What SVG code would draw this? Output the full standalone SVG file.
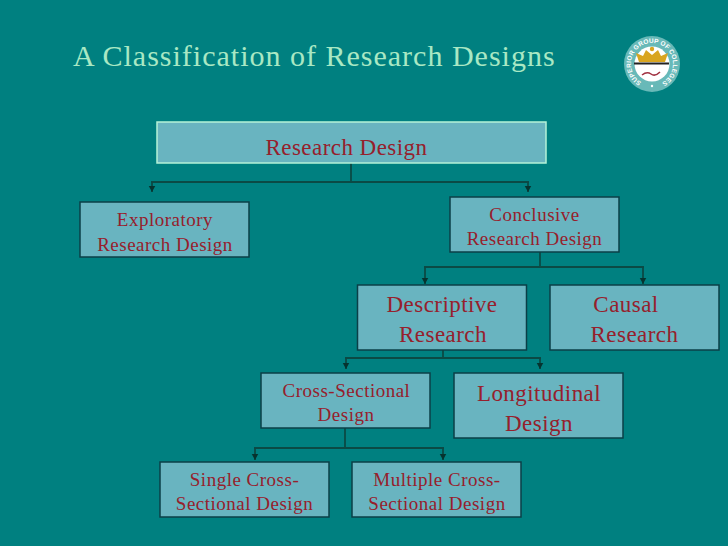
<svg xmlns="http://www.w3.org/2000/svg" width="728" height="546" viewBox="0 0 728 546">
<style>
.n{fill:#69b4c0;stroke:#0b3f47;stroke-width:1.5}
.t{font-family:"Liberation Serif",serif;fill:#96202c;text-anchor:middle}
.s{font-size:19px;letter-spacing:.5px}
.l{font-size:23px;letter-spacing:.45px}
.c{fill:none;stroke:#0b4a45;stroke-width:1.8}
</style>
<defs>
<marker id="a" markerUnits="userSpaceOnUse" markerWidth="8" markerHeight="8" refX="4" refY="6.500" orient="0" viewBox="0 0 8 8"><path d="M.5 0H7.500L4 6.500Z" fill="#06332f"/></marker>
<path id="ring" d="M641.500 82.200A21 21 0 1 1 662.500 82.200"/>
</defs>
<rect width="728" height="546" fill="#008080"/>
<text x="73" y="66" font-family="'Liberation Serif',serif" font-size="30" letter-spacing="1" fill="#a9e8c4">A Classification of Research Designs</text>
<g id="logo">
<circle cx="652" cy="64" r="28" fill="#68b9b8"/>
<circle cx="652" cy="64" r="17.500" fill="#fff"/>
<path d="M639 62l-3-9 7 3 3-6 6 5 6-5 3 6 7-3-3 9Z" fill="#d9a520"/>
<circle cx="652" cy="49" r="2.200" fill="#d9a520"/>
<path d="M634 63.500H669" stroke="#222" stroke-width="2"/>
<path d="M642 75q5-4 9-1t9-2" stroke="#a03040" stroke-width="1.500" fill="none"/>
<circle cx="652" cy="86" r="1.200" fill="#fff"/>
<text font-family="'Liberation Sans',sans-serif" font-size="6.500" font-weight="700" fill="#fff"><textPath href="#ring" textLength="110" lengthAdjust="spacing">SUPERIOR GROUP OF COLLEGES</textPath></text>
</g>
<g id="connectors" class="c">
<path d="M351 163V182M151 182H529"/>
<path d="M152 182V192" marker-end="url(#a)"/>
<path d="M528 182V192" marker-end="url(#a)"/>
<path d="M540 252V267M424 267H644"/>
<path d="M425 267V284" marker-end="url(#a)"/>
<path d="M643 267V284" marker-end="url(#a)"/>
<path d="M443 350V358M345 358H541"/>
<path d="M346 358V369" marker-end="url(#a)"/>
<path d="M540 358V369" marker-end="url(#a)"/>
<path d="M345 428V448M254 448H444"/>
<path d="M255 448V460" marker-end="url(#a)"/>
<path d="M443 448V460" marker-end="url(#a)"/>
</g>
<g id="research-design"><rect x="157" y="122" width="389" height="41" fill="#69b4c0" stroke="#b5f2d8" stroke-width="1.500"/><text class="t" x="346.500" y="155" font-size="23" letter-spacing=".45">Research Design</text></g>
<g id="exploratory"><rect class="n" x="80" y="202" width="169" height="55"/><text class="t s" x="165" y="226">Exploratory</text><text class="t s" x="165" y="251">Research Design</text></g>
<g id="conclusive"><rect class="n" x="450" y="197" width="169" height="55"/><text class="t s" x="534.500" y="221">Conclusive</text><text class="t s" x="534.500" y="245">Research Design</text></g>
<g id="descriptive"><rect class="n" x="357.500" y="285" width="169" height="65"/><text class="t l" x="442" y="312">Descriptive</text><text class="t l" x="443" y="342">Research</text></g>
<g id="causal"><rect class="n" x="550" y="285" width="169" height="65"/><text class="t l" x="626" y="312">Causal</text><text class="t l" x="634.500" y="342">Research</text></g>
<g id="cross-sectional"><rect class="n" x="261" y="373" width="169" height="55"/><text class="t s" x="346.500" y="397">Cross-Sectional</text><text class="t s" x="346" y="421">Design</text></g>
<g id="longitudinal"><rect class="n" x="454" y="373" width="169" height="65"/><text class="t l" x="539" y="401">Longitudinal</text><text class="t l" x="539" y="431">Design</text></g>
<g id="single"><rect class="n" x="160" y="462" width="169" height="55"/><text class="t s" x="244.500" y="486">Single Cross-</text><text class="t s" x="244.500" y="510">Sectional Design</text></g>
<g id="multiple"><rect class="n" x="352" y="462" width="169" height="55"/><text class="t s" x="437" y="486">Multiple Cross-</text><text class="t s" x="437" y="510">Sectional Design</text></g>
</svg>
